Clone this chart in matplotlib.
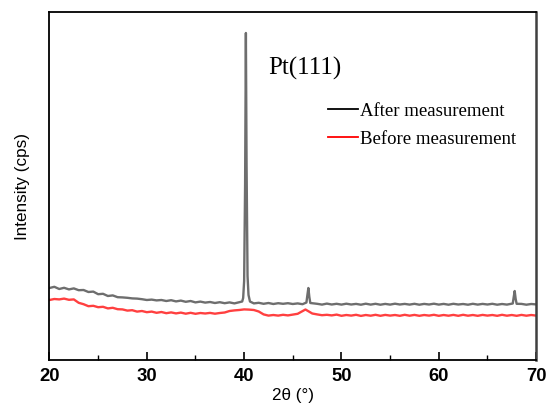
import numpy as np
import matplotlib
matplotlib.use("Agg")
import matplotlib.pyplot as plt
from matplotlib.lines import Line2D

# ---- data (arbitrary cps units) ----
base_angles = np.arange(20.0, 70.01, 0.5)
after_base = [710, 722, 700, 712, 696, 706, 688, 690, 670, 674,
              648, 652, 630, 636, 618, 616, 612, 606, 604, 598,
              590, 594, 586, 590, 580, 588, 576, 584, 572, 580,
              566, 574, 564, 570, 560, 568, 558, 566, 556, 564,
              560, 560, 556, 562, 552, 560, 550, 558, 552, 558,
              550, 556, 548, 552, 546, 552, 544, 554, 545, 552,
              544, 553, 545, 551, 543, 553, 544, 552, 543, 551,
              544, 553, 545, 551, 544, 552, 543, 551, 545, 553,
              544, 551, 543, 552, 545, 550, 543, 552, 544, 551,
              545, 552, 543, 550, 544, 552, 545, 551, 543, 550,
              546]
after_peak_angles = [39.8, 39.9, 40.0, 40.1, 40.18, 40.25, 40.35, 40.45, 40.6,
                     46.4, 46.5, 46.6, 46.7, 46.8,
                     67.6, 67.7, 67.8, 67.9, 68.0]
after_peak_values = [575, 610, 780, 1750, 3260, 1950, 830, 640, 575,
                     565, 640, 710, 620, 560,
                     555, 620, 680, 600, 552]

before_base = [590, 600, 596, 604, 592, 596, 562, 548, 528, 532,
               518, 522, 506, 512, 498, 496, 484, 488, 474, 480,
               468, 474, 462, 470, 458, 466, 456, 464, 453, 462,
               452, 460, 455, 461, 453, 460, 465, 480, 486, 490,
               496, 494, 490, 475, 446, 434, 440, 434, 442, 436,
               444, 452, 480, 480, 455, 446, 438, 442, 436, 444,
               432, 440, 434, 442, 431, 440, 433, 442, 432, 441,
               434, 440, 432, 442, 433, 441, 432, 440, 434, 442,
               432, 440, 433, 441, 432, 442, 433, 440, 432, 441,
               434, 440, 432, 442, 433, 440, 432, 441, 433, 440,
               434]
before_peak_angles = [46.3]
before_peak_values = [495]

legend_labels = ["After measurement", "Before measurement"]
peak_label = "Pt(111)"
xticks = [20, 30, 40, 50, 60, 70]


def merge(a1, v1, a2, v2):
    a1 = np.asarray(a1, float)
    v1 = np.asarray(v1, float)
    a2 = np.asarray(a2, float)
    v2 = np.asarray(v2, float)
    keep = np.array([np.min(np.abs(a2 - a)) > 0.3 for a in a1])
    a = np.concatenate([a1[keep], a2])
    v = np.concatenate([v1[keep], v2])
    order = np.argsort(a, kind="stable")
    return a[order], v[order]


x_after, y_after = merge(base_angles, after_base, after_peak_angles, after_peak_values)
x_before, y_before = merge(base_angles, before_base, before_peak_angles, before_peak_values)

fig = plt.figure(figsize=(5.48, 4.16), dpi=100)
ax = fig.add_axes([0.0903, 0.1346, 0.888, 0.8354])

ax.plot(x_after, y_after, color="black", alpha=0.57, lw=1.7)
ax.plot(x_before, y_before, color="red", alpha=0.75, lw=1.7)

ax.set_xlim(20, 70)
ax.set_ylim(-10, 3465)
ax.set_yticks([])
ax.set_xticks(xticks)
ax.set_xticks(np.arange(25, 70, 10), minor=True)
ax.tick_params(axis="x", which="major", direction="in", length=6, width=1.2,
               top=False, labelsize=13.3, pad=6)
ax.tick_params(axis="x", which="minor", direction="in", length=3.5, width=1.0, top=False)
for lab in ax.get_xticklabels():
    lab.set_fontfamily("Liberation Sans")
    lab.set_fontweight("bold")

for side in ["left", "bottom", "top"]:
    ax.spines[side].set_linewidth(1.3)
    ax.spines[side].set_color("black")
ax.spines["right"].set_linewidth(1.8)
ax.spines["right"].set_color("#404040")

ax.set_xlabel("2θ (°)", fontsize=12.3, family="Liberation Sans", labelpad=2)
ax.set_ylabel("Intensity (cps)", fontsize=12.3, family="Liberation Sans", labelpad=14)

ax.text(42.5, 2910, peak_label, fontsize=18, family="Liberation Serif", va="center")

handles = [Line2D([], [], color="black", lw=1.3), Line2D([], [], color="red", lw=1.3)]
fig.legend(handles, legend_labels, loc="upper left", bbox_to_anchor=(0.582, 0.776),
           frameon=False, prop={"family": "Liberation Serif", "size": 13.5},
           handlelength=1.6, handletextpad=0.1, labelspacing=0.58, borderpad=0)

fig.savefig("out.png", dpi=100)
